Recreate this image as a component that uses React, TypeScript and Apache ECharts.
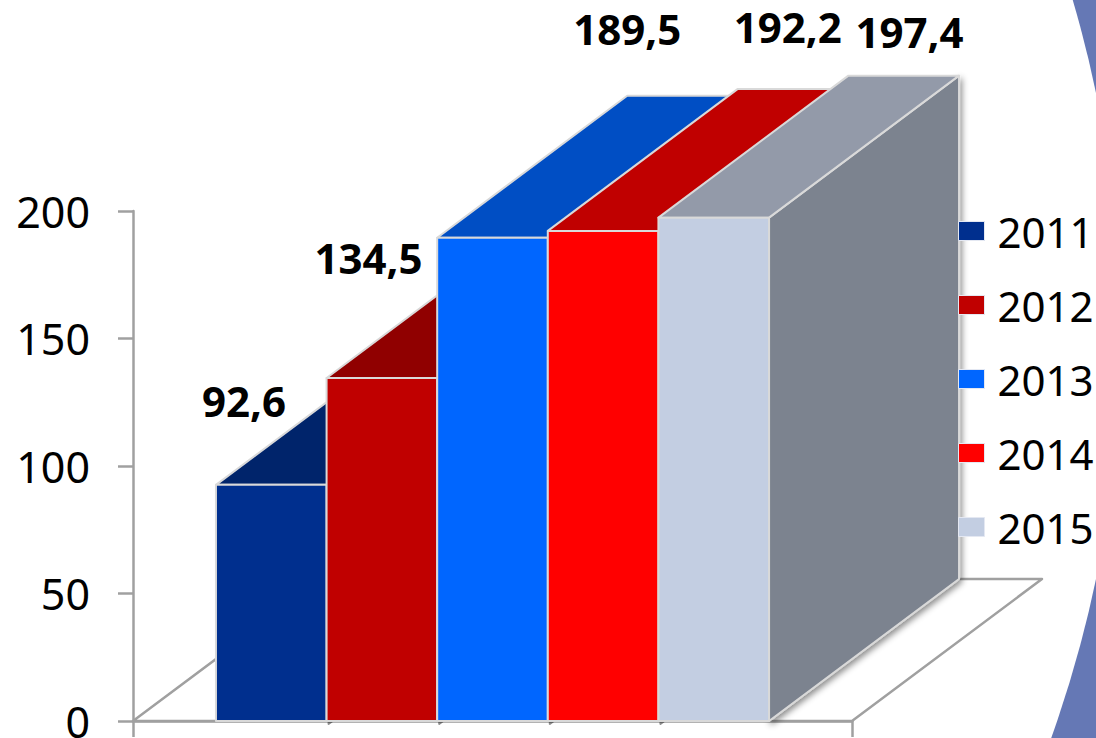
import React, { useEffect, useRef } from "react";
import * as echarts from "echarts";

const years = ["2011", "2012", "2013", "2014", "2015"];
const values = [92.6, 134.5, 189.5, 192.2, 197.4];
const frontColors = ["#002F8E", "#C00000", "#0066FF", "#FF0000", "#C3CEE2"];
const topColors = ["#00246B", "#900000", "#004EC4", "#C00000", "#939AA9"];
const sideColors = ["#001C54", "#700000", "#003C99", "#900000", "#7C838F"];
const yTicks = { min: 0, max: 200, interval: 50 };
const labelOffsets = [
  [28, -84],
  [42, -121],
  [190, -209],
  [240, -204],
  [251, -186],
];

const DEPTH_X = 190;
const DEPTH_Y = -142;
const GAP_BARS = 0.75;
const EDGE = "#D9D9D9";
const AXIS = "#A0A0A0";
const FONT = "'Noto Sans', sans-serif";

function barRenderer(i: number) {
  return (_: any, api: any) => {
    const v = api.value(1);
    const band = api.size([1, 0])[0];
    const barW = band / (years.length + 2 * GAP_BARS);
    const base = api.coord([0, 0]);
    const top = api.coord([0, v]);
    const x0 = base[0] - band / 2 + barW * (GAP_BARS + i);
    const x1 = x0 + barW;
    const yT = top[1];
    const yB = base[1];
    const stroke = { stroke: EDGE, lineWidth: 2, lineJoin: "round" };
    return {
      type: "group",
      children: [
        {
          type: "polygon",
          shape: { points: [[x1, yT], [x1 + DEPTH_X, yT + DEPTH_Y], [x1 + DEPTH_X, yB + DEPTH_Y], [x1, yB]] },
          style: { fill: sideColors[i], ...stroke, shadowBlur: i === years.length - 1 ? 6 : 0, shadowColor: "rgba(0,0,0,0.45)", shadowOffsetX: 2, shadowOffsetY: 3 },
        },
        {
          type: "polygon",
          shape: { points: [[x0, yT], [x0 + DEPTH_X, yT + DEPTH_Y], [x1 + DEPTH_X, yT + DEPTH_Y], [x1, yT]] },
          style: { fill: topColors[i], ...stroke },
        },
        {
          type: "rect",
          shape: { x: x0, y: yT, width: barW, height: yB - yT },
          style: { fill: frontColors[i], ...stroke },
        },
        {
          type: "text",
          x: x0 + labelOffsets[i][0],
          y: yT + labelOffsets[i][1],
          style: {
            text: String(v).replace(".", ","),
            fill: "#000",
            font: `bold 42px ${FONT}`,
            lineHeight: 34,
            align: "center",
            verticalAlign: "middle",
          },
        },
      ],
    };
  };
}

function floorRenderer(_: any, api: any) {
  const band = api.size([1, 0])[0];
  const base = api.coord([0, 0]);
  const l = base[0] - band / 2;
  const r = l + band;
  const y = base[1];
  return {
    type: "polygon",
    shape: { points: [[l, y], [l + DEPTH_X, y + DEPTH_Y], [r + DEPTH_X, y + DEPTH_Y], [r, y]] },
    style: { fill: "#FFFFFF", stroke: AXIS, lineWidth: 2.5, lineJoin: "round" },
  };
}

export default function App() {
  const ref = useRef<HTMLDivElement>(null);
  useEffect(() => {
    const chart = echarts.init(ref.current!, undefined, { renderer: "svg" });
    chart.setOption({
      animation: false,
      backgroundColor: "#FFFFFF",
      textStyle: { fontFamily: FONT },
      grid: { left: 133, right: 244, top: 211, bottom: 17, containLabel: false, outerBoundsMode: "none" },
      graphic: [
        { type: "rect", z: -3, silent: true, shape: { x: 1000, y: 0, width: 96, height: 738 }, style: { fill: "#6578B5" } },
        { type: "circle", z: -2, silent: true, shape: { cx: -72, cy: 336, r: 1193 }, style: { fill: "#FFFFFF" } },
      ],
      xAxis: {
        type: "category",
        data: [""],
        axisLine: { lineStyle: { color: AXIS, width: 2.5 } },
        axisTick: { show: true, length: 16, lineStyle: { color: AXIS, width: 2.5 }, alignWithLabel: false },
        axisLabel: { show: false },
        splitLine: { show: false },
      },
      yAxis: {
        type: "value",
        ...yTicks,
        axisLine: { show: true, lineStyle: { color: AXIS, width: 2.5 } },
        axisTick: { show: true, length: 15, lineStyle: { color: AXIS, width: 2.5 } },
        axisLabel: { color: "#000", fontSize: 43, lineHeight: 30, fontFamily: FONT, margin: 43 },
        splitLine: { show: false },
      },
      legend: {
        orient: "vertical",
        left: 958,
        top: 210,
        padding: 0,
        data: years,
        icon: "rect",
        itemWidth: 26,
        itemHeight: 19,
        itemGap: 32,
        itemStyle: { borderColor: "#E4E8F2", borderWidth: 1 },
        textStyle: { color: "#000", fontSize: 42, fontFamily: FONT, padding: [0, 0, 0, 8] },
      },
      series: [
        {
          type: "custom",
          name: "floor",
          silent: true,
          clip: false,
          data: [[0, 0]],
          encode: { x: 0, y: 1 },
          renderItem: floorRenderer,
        },
        ...years.map((y, i) => ({
          type: "custom",
          name: y,
          clip: false,
          itemStyle: { color: frontColors[i] },
          data: [[0, values[i]]],
          encode: { x: 0, y: 1 },
          renderItem: barRenderer(i),
        })),
      ],
    });
    return () => chart.dispose();
  }, []);
  return <div ref={ref} style={{ position: "absolute", left: 0, top: 0, width: 1096, height: 738 }} />;
}
